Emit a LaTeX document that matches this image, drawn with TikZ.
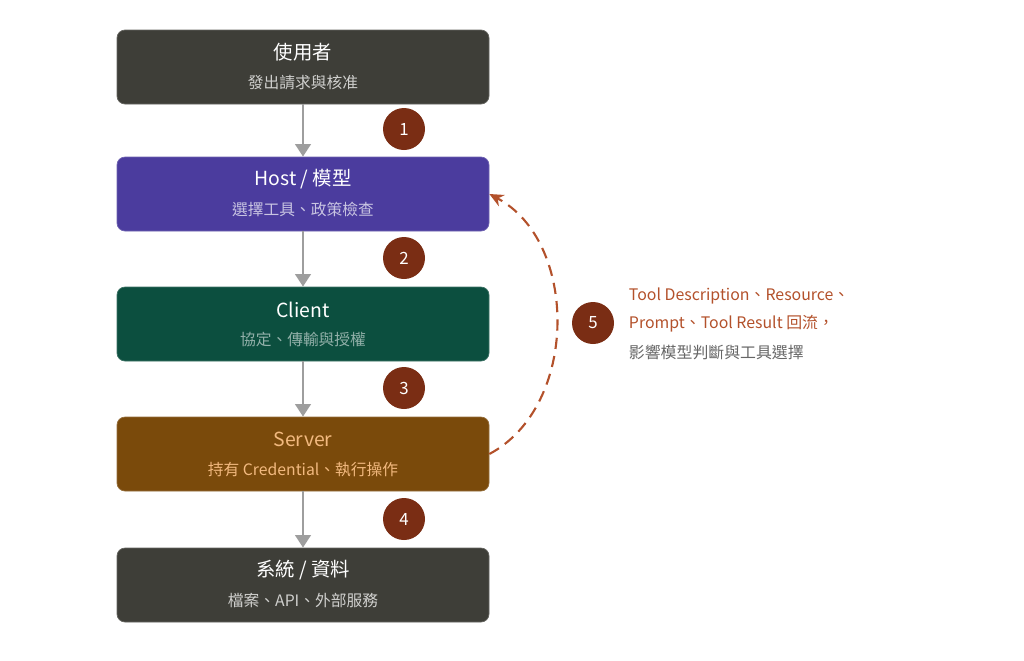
\documentclass[tikz,border=0pt]{standalone}
\usepackage{fontspec}
\setmainfont{Noto Sans CJK TC}
\usetikzlibrary{arrows.meta}

\definecolor{darkbox}{HTML}{3E3E38}
\definecolor{hostbox}{HTML}{4B3C9E}
\definecolor{clientbox}{HTML}{0C4F3F}
\definecolor{serverbox}{HTML}{7A4A0B}
\definecolor{badgered}{HTML}{7A2D14}
\definecolor{loopred}{HTML}{B3512B}
\definecolor{flowgray}{HTML}{9E9E9E}

\tikzset{
  stage/.style={rectangle, rounded corners=0.2cm, minimum width=9.3cm,
    minimum height=1.85cm, draw=#1!80!white, line width=0.5pt, fill=#1},
  badge/.style={circle, fill=badgered, text=white, minimum size=1.05cm,
    inner sep=0pt, font=\fontsize{12}{14}\selectfont},
  headline/.style={font=\fontsize{13.8}{16}\selectfont},
  subline/.style={font=\fontsize{11.2}{13}\selectfont},
  flow/.style={draw=flowgray, line width=2.1pt, -{Triangle[length=9pt,width=11pt]}},
  notetext/.style={anchor=west, font=\fontsize{11.3}{13}\selectfont}
}

\begin{document}
\begin{tikzpicture}
\useasboundingbox (0,0) rectangle (25.6,-16.5);

% stages
\node[stage=darkbox] (user) at (7.575,-1.675) {};
\node[stage=hostbox] (host) at (7.575,-4.85) {};
\node[stage=clientbox] (client) at (7.575,-8.1) {};
\node[stage=serverbox] (server) at (7.575,-11.35) {};
\node[stage=darkbox] (system) at (7.575,-14.625) {};

\node[headline, text=white] (userT) at (7.575,-1.31) {使用者};
\node[subline, text=white!75!darkbox] (userS) at (7.575,-2.06) {發出請求與核准};
\node[headline, text=white] (hostT) at (7.575,-4.485) {Host / 模型};
\node[subline, text=white!70!hostbox] (hostS) at (7.575,-5.235) {選擇工具、政策檢查};
\node[headline, text=white] (clientT) at (7.575,-7.735) {Client};
\node[subline, text=white!55!clientbox] (clientS) at (7.575,-8.485) {協定、傳輸與授權};
\node[headline, text=orange!45!white!90!serverbox] (serverT) at (7.575,-10.985) {Server};
\node[subline, text=orange!45!white!90!serverbox] (serverS) at (7.575,-11.735) {持有 Credential、執行操作};
\node[headline, text=white] (systemT) at (7.575,-14.26) {系統 / 資料};
\node[subline, text=white!75!darkbox] (systemS) at (7.575,-15.01) {檔案、API、外部服務};

% flow
\draw[flow] (user) -- (host);
\draw[flow] (host) -- (client);
\draw[flow] (client) -- (server);
\draw[flow] (server) -- (system);

\node[badge] (b1) at (10.1,-3.225) {1};
\node[badge] (b2) at (10.1,-6.45) {2};
\node[badge] (b3) at (10.1,-9.7) {3};
\node[badge] (b4) at (10.1,-12.975) {4};

% feedback loop
\draw[loopred, line width=1.5pt, dash pattern=on 0.28cm off 0.18cm,
  -{Stealth[length=10pt,width=9pt]}] (server.east) to[bend right=62] (host.east);
\node[badge] (b5) at (14.825,-8.075) {5};

\node[notetext, text=loopred] (note1) at (15.6,-7.39) {Tool Description、Resource、};
\node[notetext, text=loopred] (note2) at (15.6,-8.09) {Prompt、Tool Result 回流，};
\node[notetext, text=black!60] (note3) at (15.6,-8.815) {影響模型判斷與工具選擇};
\end{tikzpicture}
\end{document}
